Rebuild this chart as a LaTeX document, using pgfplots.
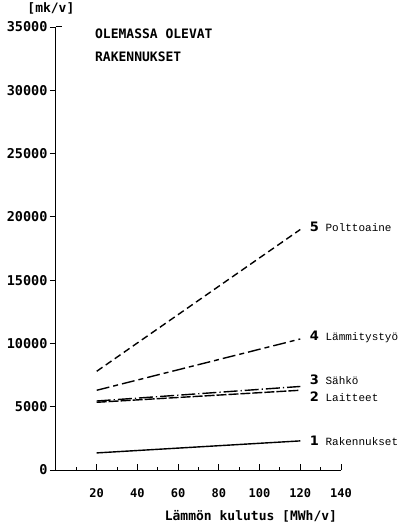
\documentclass[border=0pt]{standalone}
\usepackage{pgfplots}
\pgfplotsset{compat=1.18}
\usepackage{fontspec}
\setmainfont{DejaVu Sans Mono}
\newfontfamily\labfont{Liberation Mono}
\newfontfamily\numfont{DejaVu Sans}
\begin{document}
\begin{tikzpicture}
\path[use as bounding box] (-56pt,-52pt) rectangle (353pt,470pt);
\begin{axis}[
  at={(0,0)}, anchor=south west,
  scale only axis, width=285pt, height=443pt,
  xmin=0, xmax=140, ymin=0, ymax=35000,
  axis x line*=bottom, axis y line*=left,
  axis line style={line width=1pt, -},
  xtick={20,40,...,140}, minor xtick={10,30,...,130},
  ytick={0,5000,...,35000},
  x tick style={line width=0.9pt, black},
  major tick length=6pt, minor tick length=3pt,
  xtick align=inside, ytick align=outside,
  y tick style={line width=0.9pt, black},
  scaled y ticks=false,
  /pgf/number format/assume math mode=true,
  /pgf/number format/1000 sep={},
  ticklabel style={font=\fontsize{12}{12}\selectfont\bfseries},
  yticklabel style={font=\fontsize{13.5}{13.5}\selectfont\bfseries, xshift=1pt},
  xticklabel style={yshift=-15pt},
  xlabel={Lämmön kulutus [MWh/v]},
  xlabel style={font=\fontsize{13}{13}\selectfont\bfseries, at={(rel axis cs:0.684,0)}, anchor=center, yshift=-46pt},
  clip=false,
]
\addplot[black, line width=1.4pt] coordinates {(20,1350) (120,2300)};
\addplot[black, line width=1.4pt, dash pattern=on 10pt off 2pt] coordinates {(20,5350) (120,6300)};
\addplot[black, line width=1.4pt, dash pattern=on 14pt off 3pt on 1.2pt off 3pt] coordinates {(20,5450) (120,6600)};
\addplot[black, line width=1.4pt, dash pattern=on 13pt off 4pt on 5pt off 4pt] coordinates {(20,6300) (120,10350)};
\addplot[black, line width=1.4pt, dash pattern=on 7pt off 4pt] coordinates {(20,7800) (120,19000)};
\draw[line width=1pt] (axis cs:0,35000) -- ++(6pt,0);
\node[anchor=south, font=\fontsize{13}{13}\selectfont\bfseries] at (axis cs:-2.5,35700) {[mk/v]};
\node[anchor=north west, align=left, font=\fontsize{13}{23}\selectfont\bfseries] at (axis cs:17.5,35100) {OLEMASSA OLEVAT\\RAKENNUKSET};
\node[anchor=west, font=\fontsize{11}{11}\selectfont\labfont] at (axis cs:123,19200) {{\numfont\fontsize{13}{13}\selectfont\textbf{5}} Polttoaine};
\node[anchor=west, font=\fontsize{11}{11}\selectfont\labfont] at (axis cs:123,10500) {{\numfont\fontsize{13}{13}\selectfont\textbf{4}} Lämmitystyö};
\node[anchor=west, font=\fontsize{11}{11}\selectfont\labfont] at (axis cs:123,7100) {{\numfont\fontsize{13}{13}\selectfont\textbf{3}} Sähkö};
\node[anchor=west, font=\fontsize{11}{11}\selectfont\labfont] at (axis cs:123,5800) {{\numfont\fontsize{13}{13}\selectfont\textbf{2}} Laitteet};
\node[anchor=west, font=\fontsize{11}{11}\selectfont\labfont] at (axis cs:123,2300) {{\numfont\fontsize{13}{13}\selectfont\textbf{1}} Rakennukset};
\end{axis}
\end{tikzpicture}
\end{document}
